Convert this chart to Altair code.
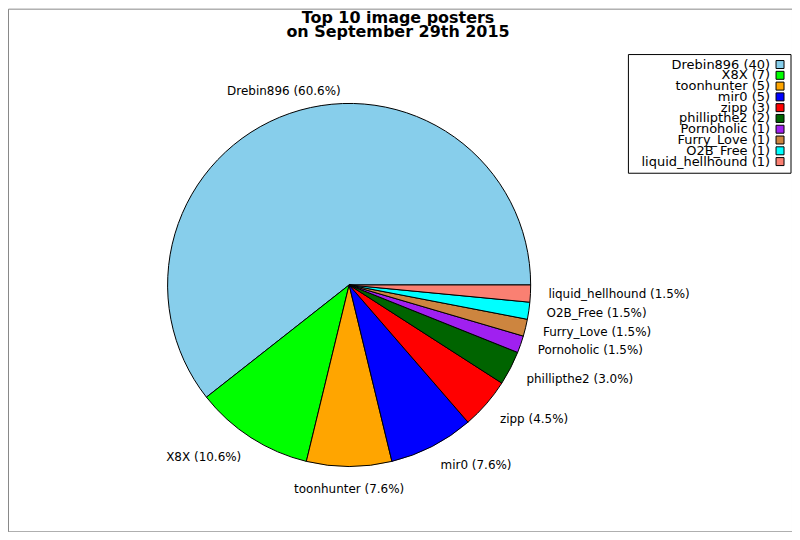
import altair as alt
import pandas as pd
import math

names = ["Drebin896", "X8X", "toonhunter", "mir0", "zipp", "phillipthe2",
         "Pornoholic", "Furry_Love", "O2B_Free", "liquid_hellhound"]
counts = [40, 7, 5, 5, 3, 2, 1, 1, 1, 1]
colors = ["#87CEEB", "#00FF00", "#FFA500", "#0000FF", "#FF0000", "#006400",
          "#A020F0", "#CD853F", "#00FFFF", "#FA8072"]
title_lines = "Top 10 image posters\non September 29th 2015"

total = sum(counts)
df = pd.DataFrame({
    "name": names,
    "count": counts,
    "idx": list(range(len(names))),
    "pie_label": [f"{n} ({c / total * 100:.1f}%)" for n, c in zip(names, counts)],
    "leg_label": [f"{n} ({c})" for n, c in zip(names, counts)],
})

CX, CY = 342, 277
FONT = "DejaVu Sans"

base = alt.Chart(df)
theta_scale = alt.Scale(domain=[0, total],
                        range=[math.pi / 2, math.pi / 2 + 2 * math.pi])
color = alt.Color("name:N", scale=alt.Scale(domain=names, range=colors), legend=None)

stacked = base.transform_stack(
    stack="count", as_=["s0", "s1"], groupby=[],
    sort=[alt.SortField("idx", order="descending")],
).transform_calculate(mid="(datum.s0 + datum.s1) / 2")

pie = stacked.mark_arc(stroke="black", strokeWidth=1, outerRadius=182).encode(
    theta=alt.Theta("s0:Q", scale=theta_scale), theta2="s1:Q", color=color,
    x=alt.value(CX), y=alt.value(CY),
)

def labels(sel, align, baseline, dy=0):
    return stacked.transform_filter(
        alt.FieldOneOfPredicate(field="name", oneOf=sel)
    ).mark_text(align=align, baseline=baseline, dy=dy, font=FONT, fontSize=12,
                color="black", radius=200).encode(
        theta=alt.Theta("mid:Q", scale=theta_scale), text="pie_label:N",
        x=alt.value(CX), y=alt.value(CY),
    )

lab_top = labels(["Drebin896"], "center", "bottom", 2)
lab_left = labels(["X8X"], "right", "middle", 4)
lab_bottom = labels(["toonhunter"], "center", "top")
lab_rlow = labels(["mir0", "zipp", "phillipthe2"], "left", "middle", 3)
lab_rmid = labels(["Pornoholic", "Furry_Love", "O2B_Free", "liquid_hellhound"],
                  "left", "middle")

title = alt.Chart(pd.DataFrame({"t": [title_lines]})).mark_text(
    font=FONT, fontSize=16, fontWeight="bold", align="center",
    baseline="alphabetic", lineBreak="\n", lineHeight=14, color="black",
).encode(text="t:N", x=alt.value(391), y=alt.value(14))

legend_box = alt.Chart(pd.DataFrame({"a": [0]})).mark_rect(
    fill="white", stroke="black", strokeWidth=1
).encode(x=alt.value(622), x2=alt.value(785), y=alt.value(46), y2=alt.value(165))

leg_y = alt.Y("name:N", sort=names,
              scale=alt.Scale(type="point", domain=names, range=[56, 153.3], padding=0),
              axis=None)

legend_text = base.mark_text(align="right", baseline="middle", font=FONT,
                             fontSize=13, color="black").encode(
    y=leg_y, x=alt.value(764), text="leg_label:N")

legend_sq = base.mark_square(size=64, stroke="black", strokeWidth=1, opacity=1).encode(
    y=leg_y, x=alt.value(774), color=color)

chart = alt.layer(
    pie, lab_top, lab_left, lab_bottom, lab_rlow, lab_rmid,
    title, legend_box, legend_text, legend_sq
).properties(
    width=786, height=524,
    autosize=alt.AutoSizeParams(type="none"),
    padding=0,
    background="white",
).configure_view(stroke="#888888", strokeWidth=1)

chart.save("out.html", embed_options={"renderer": "svg", "actions": False})
